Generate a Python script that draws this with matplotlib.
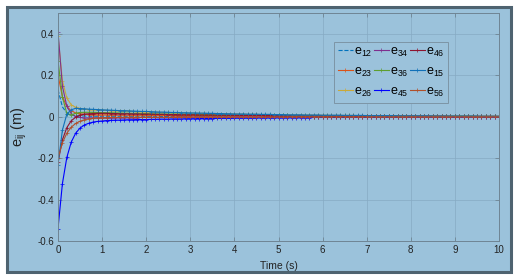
import matplotlib
matplotlib.use("Agg")
import matplotlib.pyplot as plt
from matplotlib.patches import Rectangle
import numpy as np

# time axis, one sample every 0.1 s
t = np.linspace(0, 10, 101)

e12 = [0.130, 0.047, 0.018, 0.008, 0.005, 0.003, 0.003, 0.002, 0.002, 0.002,
       0.002, 0.002, 0.002, 0.002, 0.002, 0.002, 0.002, 0.002, 0.002, 0.002,
       0.002, 0.002, 0.002, 0.001, 0.001, 0.001, 0.001, 0.001, 0.001, 0.001,
       0.001, 0.001, 0.001, 0.001, 0.001, 0.001, 0.001, 0.001, 0.001, 0.001,
       0.001, 0.001, 0.001, 0.001, 0.001, 0.001, 0.001, 0.001, 0.001, 0.001,
       0.001, 0.001, 0.001, 0.001, 0.001, 0.001, 0.001, 0.001, 0.001, 0.001,
       0.001, 0.000, 0.000, 0.000, 0.000, 0.000, 0.000, 0.000, 0.000, 0.000,
       0.000, 0.000, 0.000, 0.000, 0.000, 0.000, 0.000, 0.000, 0.000, 0.000,
       0.000, 0.000, 0.000, 0.000, 0.000, 0.000, 0.000, 0.000, 0.000, 0.000,
       0.000, 0.000, 0.000, 0.000, 0.000, 0.000, 0.000, 0.000, 0.000, 0.000, 0.000]

e23 = [0.200, 0.096, 0.049, 0.028, 0.018, 0.014, 0.012, 0.010, 0.010, 0.009,
       0.009, 0.009, 0.008, 0.008, 0.008, 0.008, 0.007, 0.007, 0.007, 0.007,
       0.007, 0.006, 0.006, 0.006, 0.006, 0.006, 0.005, 0.005, 0.005, 0.005,
       0.005, 0.005, 0.005, 0.004, 0.004, 0.004, 0.004, 0.004, 0.004, 0.004,
       0.004, 0.003, 0.003, 0.003, 0.003, 0.003, 0.003, 0.003, 0.003, 0.003,
       0.003, 0.003, 0.002, 0.002, 0.002, 0.002, 0.002, 0.002, 0.002, 0.002,
       0.002, 0.002, 0.002, 0.002, 0.002, 0.002, 0.002, 0.002, 0.001, 0.001,
       0.001, 0.001, 0.001, 0.001, 0.001, 0.001, 0.001, 0.001, 0.001, 0.001,
       0.001, 0.001, 0.001, 0.001, 0.001, 0.001, 0.001, 0.001, 0.001, 0.001,
       0.001, 0.001, 0.001, 0.001, 0.001, 0.001, 0.001, 0.001, 0.001, 0.001, 0.001]

e26 = [0.390, 0.173, 0.090, 0.057, 0.045, 0.039, 0.036, 0.034, 0.033, 0.032,
       0.031, 0.030, 0.029, 0.028, 0.028, 0.027, 0.026, 0.025, 0.024, 0.024,
       0.023, 0.022, 0.022, 0.021, 0.020, 0.020, 0.019, 0.019, 0.018, 0.017,
       0.017, 0.016, 0.016, 0.016, 0.015, 0.015, 0.014, 0.014, 0.013, 0.013,
       0.013, 0.012, 0.012, 0.011, 0.011, 0.011, 0.010, 0.010, 0.010, 0.010,
       0.009, 0.009, 0.009, 0.008, 0.008, 0.008, 0.008, 0.008, 0.007, 0.007,
       0.007, 0.007, 0.006, 0.006, 0.006, 0.006, 0.006, 0.006, 0.005, 0.005,
       0.005, 0.005, 0.005, 0.005, 0.005, 0.004, 0.004, 0.004, 0.004, 0.004,
       0.004, 0.004, 0.004, 0.003, 0.003, 0.003, 0.003, 0.003, 0.003, 0.003,
       0.003, 0.003, 0.003, 0.003, 0.002, 0.002, 0.002, 0.002, 0.002, 0.002, 0.002]

e34 = [0.410, 0.147, 0.050, 0.014, 0.001, -0.004, -0.006, -0.006, -0.006, -0.006,
       -0.006, -0.006, -0.006, -0.005, -0.005, -0.005, -0.005, -0.005, -0.005, -0.004,
       -0.004, -0.004, -0.004, -0.004, -0.004, -0.004, -0.004, -0.004, -0.003, -0.003,
       -0.003, -0.003, -0.003, -0.003, -0.003, -0.003, -0.003, -0.003, -0.003, -0.003,
       -0.002, -0.002, -0.002, -0.002, -0.002, -0.002, -0.002, -0.002, -0.002, -0.002,
       -0.002, -0.002, -0.002, -0.002, -0.002, -0.001, -0.001, -0.001, -0.001, -0.001,
       -0.001, -0.001, -0.001, -0.001, -0.001, -0.001, -0.001, -0.001, -0.001, -0.001,
       -0.001, -0.001, -0.001, -0.001, -0.001, -0.001, -0.001, -0.001, -0.001, -0.001,
       -0.001, -0.001, -0.001, -0.001, -0.001, -0.001, -0.001, -0.001, -0.001, -0.001,
       -0.001, -0.001, -0.001, -0.001, -0.001, -0.001, -0.001, -0.001, -0.001, -0.001, -0.001]

e36 = [0.270, 0.095, 0.015, 0.008, 0.016, 0.020, 0.021, 0.021, 0.021, 0.020,
       0.020, 0.019, 0.019, 0.018, 0.018, 0.017, 0.017, 0.016, 0.016, 0.015,
       0.015, 0.014, 0.014, 0.013, 0.013, 0.013, 0.012, 0.012, 0.012, 0.011,
       0.011, 0.011, 0.010, 0.010, 0.010, 0.009, 0.009, 0.009, 0.009, 0.008,
       0.008, 0.008, 0.008, 0.007, 0.007, 0.007, 0.007, 0.006, 0.006, 0.006,
       0.006, 0.006, 0.006, 0.005, 0.005, 0.005, 0.005, 0.005, 0.005, 0.005,
       0.004, 0.004, 0.004, 0.004, 0.004, 0.004, 0.004, 0.004, 0.003, 0.003,
       0.003, 0.003, 0.003, 0.003, 0.003, 0.003, 0.003, 0.003, 0.002, 0.002,
       0.002, 0.002, 0.002, 0.002, 0.002, 0.002, 0.002, 0.002, 0.002, 0.002,
       0.002, 0.002, 0.002, 0.002, 0.002, 0.001, 0.001, 0.001, 0.001, 0.001, 0.001]

e45 = [-0.540, -0.323, -0.197, -0.123, -0.080, -0.055, -0.040, -0.032, -0.026, -0.023,
       -0.021, -0.019, -0.018, -0.017, -0.017, -0.016, -0.015, -0.015, -0.014, -0.014,
       -0.014, -0.013, -0.013, -0.012, -0.012, -0.012, -0.011, -0.011, -0.011, -0.010,
       -0.010, -0.010, -0.009, -0.009, -0.009, -0.009, -0.008, -0.008, -0.008, -0.008,
       -0.007, -0.007, -0.007, -0.007, -0.007, -0.006, -0.006, -0.006, -0.006, -0.006,
       -0.005, -0.005, -0.005, -0.005, -0.005, -0.005, -0.005, -0.005, -0.004, -0.004,
       -0.004, -0.004, -0.004, -0.004, -0.004, -0.004, -0.003, -0.003, -0.003, -0.003,
       -0.003, -0.003, -0.003, -0.003, -0.003, -0.002, -0.002, -0.002, -0.002, -0.002,
       -0.002, -0.002, -0.002, -0.002, -0.002, -0.002, -0.002, -0.002, -0.002, -0.002,
       -0.002, -0.002, -0.002, -0.002, -0.001, -0.001, -0.001, -0.001, -0.001, -0.001, -0.001]

e46 = [-0.220, -0.112, -0.053, -0.020, -0.003, 0.007, 0.012, 0.014, 0.015, 0.016,
       0.016, 0.016, 0.015, 0.015, 0.014, 0.014, 0.014, 0.013, 0.013, 0.012,
       0.012, 0.012, 0.011, 0.011, 0.011, 0.010, 0.010, 0.010, 0.009, 0.009,
       0.009, 0.009, 0.008, 0.008, 0.008, 0.008, 0.007, 0.007, 0.007, 0.007,
       0.007, 0.006, 0.006, 0.006, 0.006, 0.006, 0.006, 0.005, 0.005, 0.005,
       0.005, 0.005, 0.005, 0.004, 0.004, 0.004, 0.004, 0.004, 0.004, 0.004,
       0.004, 0.004, 0.003, 0.003, 0.003, 0.003, 0.003, 0.003, 0.003, 0.003,
       0.003, 0.003, 0.003, 0.002, 0.002, 0.002, 0.002, 0.002, 0.002, 0.002,
       0.002, 0.002, 0.002, 0.002, 0.002, 0.002, 0.002, 0.002, 0.002, 0.001,
       0.001, 0.001, 0.001, 0.001, 0.001, 0.001, 0.001, 0.001, 0.001, 0.001, 0.001]

e15 = [-0.233, -0.065, 0.012, 0.033, 0.040, 0.039, 0.038, 0.036, 0.035, 0.034,
       0.033, 0.032, 0.031, 0.030, 0.029, 0.029, 0.028, 0.027, 0.026, 0.025,
       0.025, 0.024, 0.023, 0.022, 0.022, 0.021, 0.020, 0.020, 0.019, 0.019,
       0.018, 0.018, 0.017, 0.017, 0.016, 0.016, 0.015, 0.015, 0.014, 0.014,
       0.013, 0.013, 0.013, 0.012, 0.012, 0.012, 0.011, 0.011, 0.011, 0.010,
       0.010, 0.010, 0.009, 0.009, 0.009, 0.009, 0.008, 0.008, 0.008, 0.008,
       0.007, 0.007, 0.007, 0.007, 0.007, 0.006, 0.006, 0.006, 0.006, 0.006,
       0.005, 0.005, 0.005, 0.005, 0.005, 0.005, 0.005, 0.004, 0.004, 0.004,
       0.004, 0.004, 0.004, 0.004, 0.004, 0.003, 0.003, 0.003, 0.003, 0.003,
       0.003, 0.003, 0.003, 0.003, 0.003, 0.003, 0.002, 0.002, 0.002, 0.002, 0.002]

e56 = [-0.200, -0.126, -0.080, -0.051, -0.033, -0.022, -0.015, -0.011, -0.008, -0.006,
       -0.005, -0.005, -0.004, -0.004, -0.004, -0.003, -0.003, -0.003, -0.003, -0.003,
       -0.003, -0.003, -0.003, -0.003, -0.003, -0.003, -0.003, -0.003, -0.002, -0.002,
       -0.002, -0.002, -0.002, -0.002, -0.002, -0.002, -0.002, -0.002, -0.002, -0.002,
       -0.002, -0.002, -0.002, -0.002, -0.002, -0.002, -0.002, -0.002, -0.002, -0.002,
       -0.002, -0.002, -0.002, -0.001, -0.001, -0.001, -0.001, -0.001, -0.001, -0.001,
       -0.001, -0.001, -0.001, -0.001, -0.001, -0.001, -0.001, -0.001, -0.001, -0.001,
       -0.001, -0.001, -0.001, -0.001, -0.001, -0.001, -0.001, -0.001, -0.001, -0.001,
       -0.001, -0.001, -0.001, -0.001, -0.001, -0.001, -0.001, -0.001, -0.001, -0.001,
       -0.001, -0.001, -0.001, -0.001, -0.001, -0.001, -0.001, -0.001, -0.001, -0.001, -0.001]

# legend is filled column by column, so this order gives the 3x3 layout
series = [
    ("12", e12, "#0072BD", "--"),
    ("23", e23, "#D95319", "-"),
    ("26", e26, "#C9A93A", "-"),
    ("34", e34, "#7E2F8E", "-"),
    ("36", e36, "#5E9E2E", "-"),
    ("45", e45, "#0000FF", "-"),
    ("46", e46, "#8E1430", "-"),
    ("15", e15, "#1070B8", "-"),
    ("56", e56, "#B0502A", "-"),
]

xticks = [0, 1, 2, 3, 4, 5, 6, 7, 8, 9, 10]
yticks = [-0.6, -0.4, -0.2, 0, 0.2, 0.4]
ytick_labels = ["-0.6", "-0.4", "-0.2", "0", "0.2", "0.4"]

BG = "#9bc2db"
FRAME = "#4e6370"
AXIS = "#6f8594"

plt.rcParams["font.family"] = ["Liberation Sans", "DejaVu Sans"]
plt.rcParams["axes.unicode_minus"] = False

W, H = 517, 278
fig = plt.figure(figsize=(W / 100, H / 100), dpi=100, facecolor="white")
# dark framed panel behind the axes
fig.add_artist(Rectangle((6.5 / W, 6.5 / H), 504 / W, 265 / H,
                         transform=fig.transFigure, facecolor=BG,
                         edgecolor=FRAME, linewidth=2.2, zorder=-5))

ax = fig.add_axes([58 / W, 37 / H, 441 / W, 228 / H])
ax.set_facecolor(BG)

handles = []
for name, vals, color, ls in series:
    (ln,) = ax.plot(t, vals, color=color, linestyle=ls, linewidth=0.8,
                    marker=None if ls == "--" else "+", markersize=2.4,
                    markeredgewidth=0.5, label=r"$\mathregular{e_{%s}}$" % name)
    handles.append(ln)

ax.set_xlim(0, 10)
ax.set_ylim(-0.6, 0.5)
ax.set_xticks(xticks)
ax.set_yticks(yticks)
ax.set_yticklabels(ytick_labels)
ax.tick_params(direction="in", length=3, width=0.6, colors=AXIS,
               labelcolor="#222222", labelsize=7, top=True, right=True, pad=3)
ax.grid(True, color="#86abc3", linewidth=0.5)
for sp in ax.spines.values():
    sp.set_color(AXIS)
    sp.set_linewidth(0.7)

ax.set_xlabel("Time (s)", fontsize=7.5, color="#222222", labelpad=4)
ax.set_ylabel(r"$\mathregular{e_{ij}}$ (m)", fontsize=10.5, color="#222222", labelpad=6)

leg = ax.legend(handles=handles, ncol=3, loc="upper left",
                bbox_to_anchor=(0.626, 0.873), fontsize=9,
                frameon=True, fancybox=False, facecolor=BG, edgecolor="#7d95a6",
                handlelength=1.2, handletextpad=0.1, columnspacing=0.1,
                labelspacing=0.55, borderpad=0.3, borderaxespad=0)
leg.get_frame().set_linewidth(0.7)
leg.get_frame().set_alpha(None)

fig.savefig("out.png", dpi=100, facecolor="white")
